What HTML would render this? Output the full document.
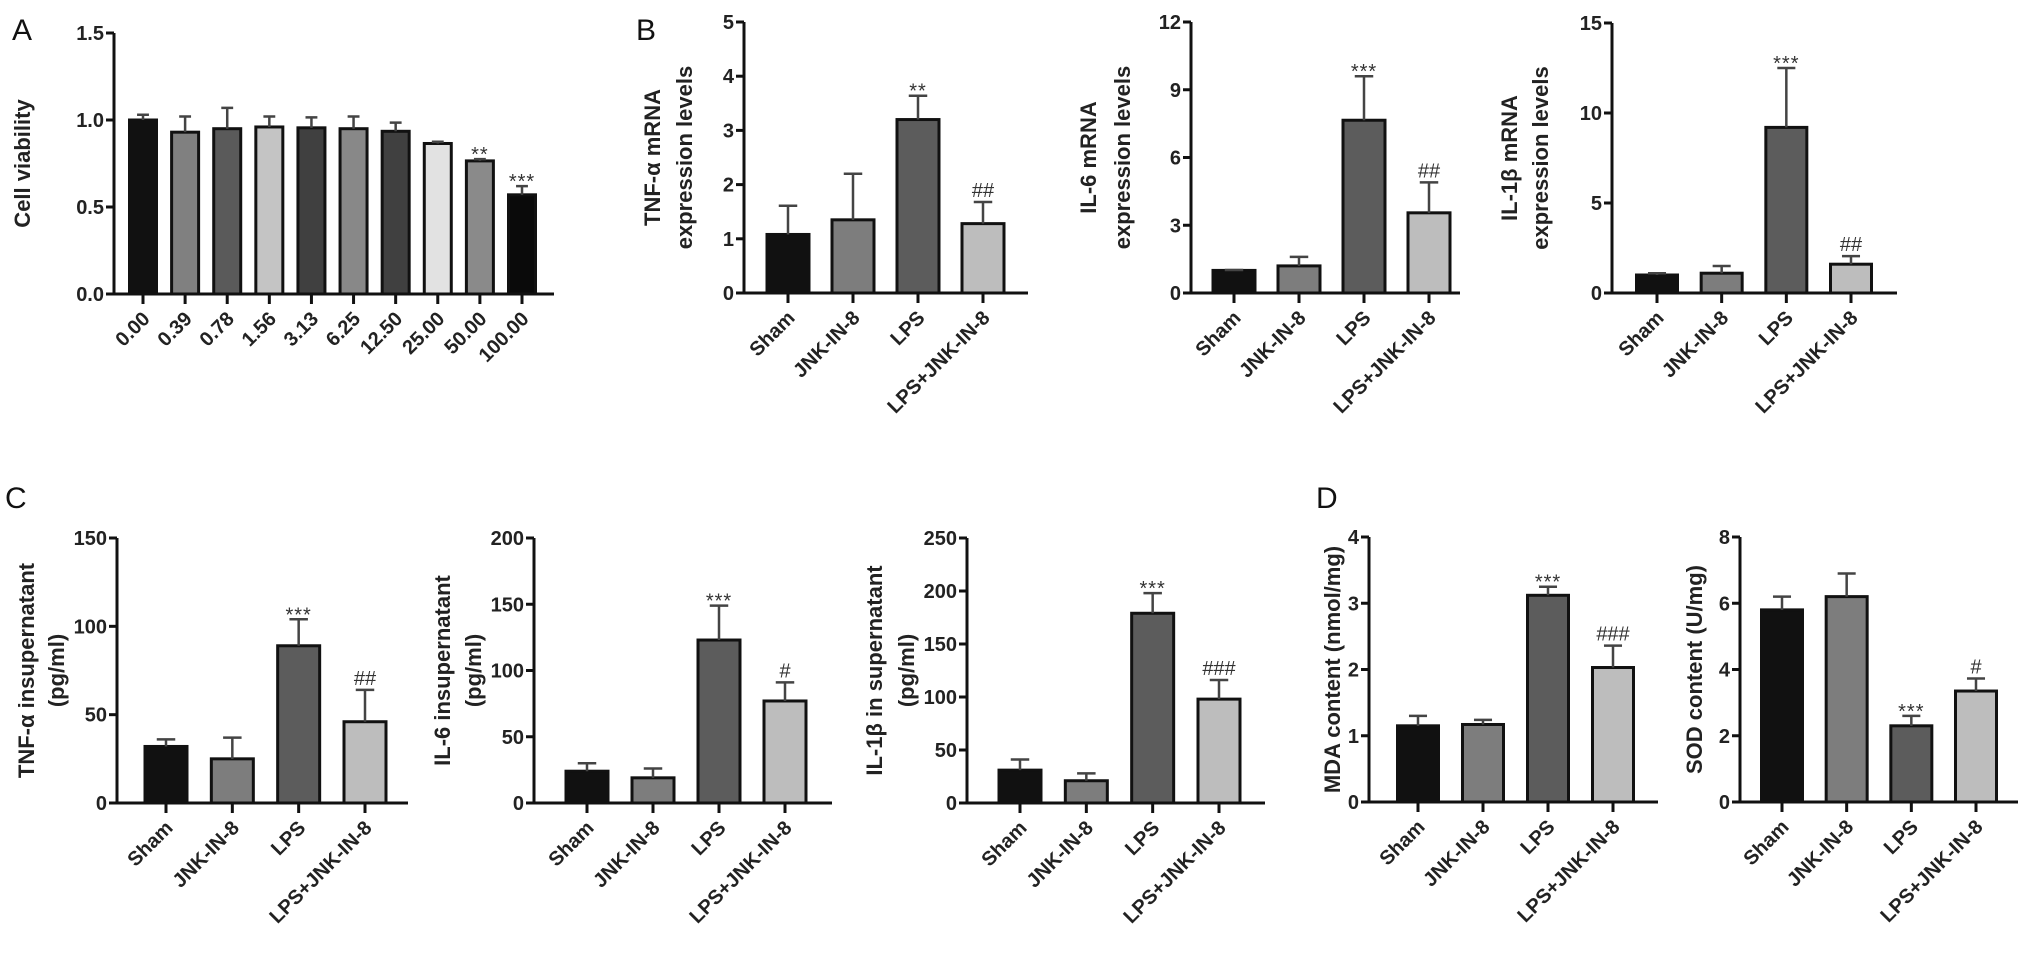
<!DOCTYPE html>
<html><head><meta charset="utf-8">
<style>
html,body{margin:0;padding:0;background:#fff;}
svg{display:block;font-family:"Liberation Sans",Arial,sans-serif;}
.tk{font-size:20px;font-weight:bold;fill:#222;}
.ttl{font-size:22px;font-weight:bold;fill:#222;}
.pl{font-size:30px;fill:#111;}
.ann{font-size:20px;fill:#333;}
</style></head>
<body>
<svg id="fig" width="2031" height="972" viewBox="0 0 2031 972">
<text class="pl" x="12" y="40">A</text>
<text class="pl" x="636" y="40">B</text>
<text class="pl" x="5" y="508">C</text>
<text class="pl" x="1316" y="508">D</text>
</svg>
<script>
// Panel A data
const aCats=["0.00","0.39","0.78","1.56","3.13","6.25","12.50","25.00","50.00","100.00"];
const aVals=[1.0,0.93,0.95,0.96,0.955,0.95,0.935,0.865,0.765,0.57];
const aErr=[0.03,0.09,0.12,0.06,0.06,0.07,0.05,0.01,0.01,0.05];
const aAnn=["","","","","","","","","**","***"];
const aTicks=["0.0","0.5","1.0","1.5"];
// Group categories
const grpCats=["Sham","JNK-IN-8","LPS","LPS+JNK-IN-8"];
// B panels
const b1Vals=[1.08,1.35,3.2,1.28]; const b1Err=[0.53,0.85,0.44,0.4]; const b1Ann=["","","**","##"]; const b1Ticks=["0","1","2","3","4","5"];
const b2Vals=[1.0,1.2,7.65,3.55]; const b2Err=[0.02,0.4,1.95,1.35]; const b2Ann=["","","***","##"]; const b2Ticks=["0","3","6","9","12"];
const b3Vals=[1.0,1.1,9.2,1.6]; const b3Err=[0.1,0.4,3.3,0.45]; const b3Ann=["","","***","##"]; const b3Ticks=["0","5","10","15"];
// C panels
const c1Vals=[32,25,89,46]; const c1Err=[4,12,15,18]; const c1Ann=["","","***","##"]; const c1Ticks=["0","50","100","150"];
const c2Vals=[24,19,123,77]; const c2Err=[6,7,26,14]; const c2Ann=["","","***","#"]; const c2Ticks=["0","50","100","150","200"];
const c3Vals=[31,21,179,98]; const c3Err=[10,7,19,18]; const c3Ann=["","","***","###"]; const c3Ticks=["0","50","100","150","200","250"];
// D panels
const d1Vals=[1.15,1.17,3.12,2.03]; const d1Err=[0.15,0.07,0.13,0.33]; const d1Ann=["","","***","###"]; const d1Ticks=["0","1","2","3","4"];
const d2Vals=[5.8,6.2,2.3,3.35]; const d2Err=[0.4,0.7,0.3,0.38]; const d2Ann=["","","***","#"]; const d2Ticks=["0","2","4","6","8"];

const grpColors=["#111","#7d7d7d","#5c5c5c","#bdbdbd"];
const aColors=["#111","#808080","#5a5a5a","#c4c4c4","#404040","#888","#404040","#e2e2e2","#8a8a8a","#0a0a0a"];
const NS="http://www.w3.org/2000/svg";
const svg=document.getElementById('fig');
function mk(tag,attrs,parent){const e=document.createElementNS(NS,tag);for(const k in attrs)e.setAttribute(k,attrs[k]);(parent||svg).appendChild(e);return e;}

function chart(o){
  const g=mk('g',{});
  
  
  const ymax=parseFloat(o.ticks[o.ticks.length-1]);
  const y=v=>o.y0-(v/ymax)*(o.y0-o.y1);
  const n=o.cats.length;
  const x=i=>o.cx0+i*(o.cxN-o.cx0)/(n-1);
  o.vals.forEach((v,i)=>{
    const top=y(v);
    const r=mk('rect',{x:x(i)-o.bw/2,y:top,width:o.bw,height:o.y0-top,fill:o.colors[i],stroke:'#111','stroke-width':3},g);
    
    
    const et=y(v+o.err[i]);
    const eb=mk('path',{d:`M${x(i)} ${top} V${et} M${x(i)-o.bw*0.22} ${et} H${x(i)+o.bw*0.22}`,stroke:'#444','stroke-width':2.5,fill:'none'},g);
    
    
    if(o.ann[i]){
      const star=o.ann[i][0]=='*';
      const t=mk('text',{x:x(i),y:star?et+2:et-5,'text-anchor':'middle',class:'ann'},g);
      if(star){t.setAttribute('font-size','25');t.setAttribute('letter-spacing','1');}
      t.textContent=o.ann[i];
      
      
    }
  });
  const ax=mk('path',{d:`M${o.ax} ${o.y1} V${o.y0} H${o.axEnd}`,stroke:'#111','stroke-width':3,fill:'none'},g);
  
  
  o.ticks.forEach(t=>{
    const yy=y(parseFloat(t));
    mk('line',{x1:o.ax-8,x2:o.ax,y1:yy,y2:yy,stroke:'#111','stroke-width':3},g);
    const tx=mk('text',{x:o.ax-10,y:yy+7,'text-anchor':'end',class:'tk'},g);
    tx.textContent=t;
    
    
  });
  o.cats.forEach((c,i)=>{
    mk('line',{x1:x(i),x2:x(i),y1:o.y0,y2:o.y0+10,stroke:'#111','stroke-width':3},g);
    const tx=mk('text',{x:x(i)+8,y:o.y0+26,'text-anchor':'end',class:'tk',transform:`rotate(-45 ${x(i)+8} ${o.y0+26})`},g);
    tx.textContent=c;
    
    
  });
  const cy=(o.y0+o.y1)/2;
  o.title.forEach((line,k)=>{
    const tx=mk('text',{x:o.tx[k],y:cy,'text-anchor':'middle',class:'ttl',transform:`rotate(-90 ${o.tx[k]} ${cy})`,dy:8},g);
    tx.textContent=line;
    
    
  });
}

chart({name:'chart-cell-viability',cats:aCats,vals:aVals,err:aErr,ann:aAnn,ticks:aTicks,colors:aColors,
  ax:114,axEnd:554,y0:294,y1:33,cx0:143,cxN:522,bw:27,title:["Cell viability"],tx:[22]});
chart({name:'chart-tnf-mrna',cats:grpCats,vals:b1Vals,err:b1Err,ann:b1Ann,ticks:b1Ticks,colors:grpColors,
  ax:744,axEnd:1028,y0:293,y1:22,cx0:788,cxN:983,bw:42,title:["TNF-α mRNA","expression levels"],tx:[652,684]});
chart({name:'chart-il6-mrna',cats:grpCats,vals:b2Vals,err:b2Err,ann:b2Ann,ticks:b2Ticks,colors:grpColors,
  ax:1191,axEnd:1460,y0:293,y1:22,cx0:1234,cxN:1429,bw:42,title:["IL-6 mRNA","expression levels"],tx:[1088,1122]});
chart({name:'chart-il1b-mrna',cats:grpCats,vals:b3Vals,err:b3Err,ann:b3Ann,ticks:b3Ticks,colors:grpColors,
  ax:1612,axEnd:1897,y0:293,y1:23,cx0:1657,cxN:1851,bw:41,title:["IL-1β mRNA","expression levels"],tx:[1509,1540]});
chart({name:'chart-tnf-supernatant',cats:grpCats,vals:c1Vals,err:c1Err,ann:c1Ann,ticks:c1Ticks,colors:grpColors,
  ax:117,axEnd:408,y0:803,y1:538,cx0:166,cxN:365,bw:42,title:["TNF-α insupernatant","(pg/ml)"],tx:[26,56]});
chart({name:'chart-il6-supernatant',cats:grpCats,vals:c2Vals,err:c2Err,ann:c2Ann,ticks:c2Ticks,colors:grpColors,
  ax:534,axEnd:832,y0:803,y1:538,cx0:587,cxN:785,bw:42,title:["IL-6 insupernatant","(pg/ml)"],tx:[442,473]});
chart({name:'chart-il1b-supernatant',cats:grpCats,vals:c3Vals,err:c3Err,ann:c3Ann,ticks:c3Ticks,colors:grpColors,
  ax:967,axEnd:1265,y0:803,y1:538,cx0:1020,cxN:1219,bw:42,title:["IL-1β in supernatant","(pg/ml)"],tx:[874,906]});
chart({name:'chart-mda',cats:grpCats,vals:d1Vals,err:d1Err,ann:d1Ann,ticks:d1Ticks,colors:grpColors,
  ax:1369,axEnd:1658,y0:802,y1:537,cx0:1418,cxN:1613,bw:41,title:["MDA content (nmol/mg)"],tx:[1332]});
chart({name:'chart-sod',cats:grpCats,vals:d2Vals,err:d2Err,ann:d2Ann,ticks:d2Ticks,colors:grpColors,
  ax:1740,axEnd:2018,y0:802,y1:537,cx0:1782,cxN:1976,bw:41,title:["SOD content (U/mg)"],tx:[1694]});
</script>
</body></html>
